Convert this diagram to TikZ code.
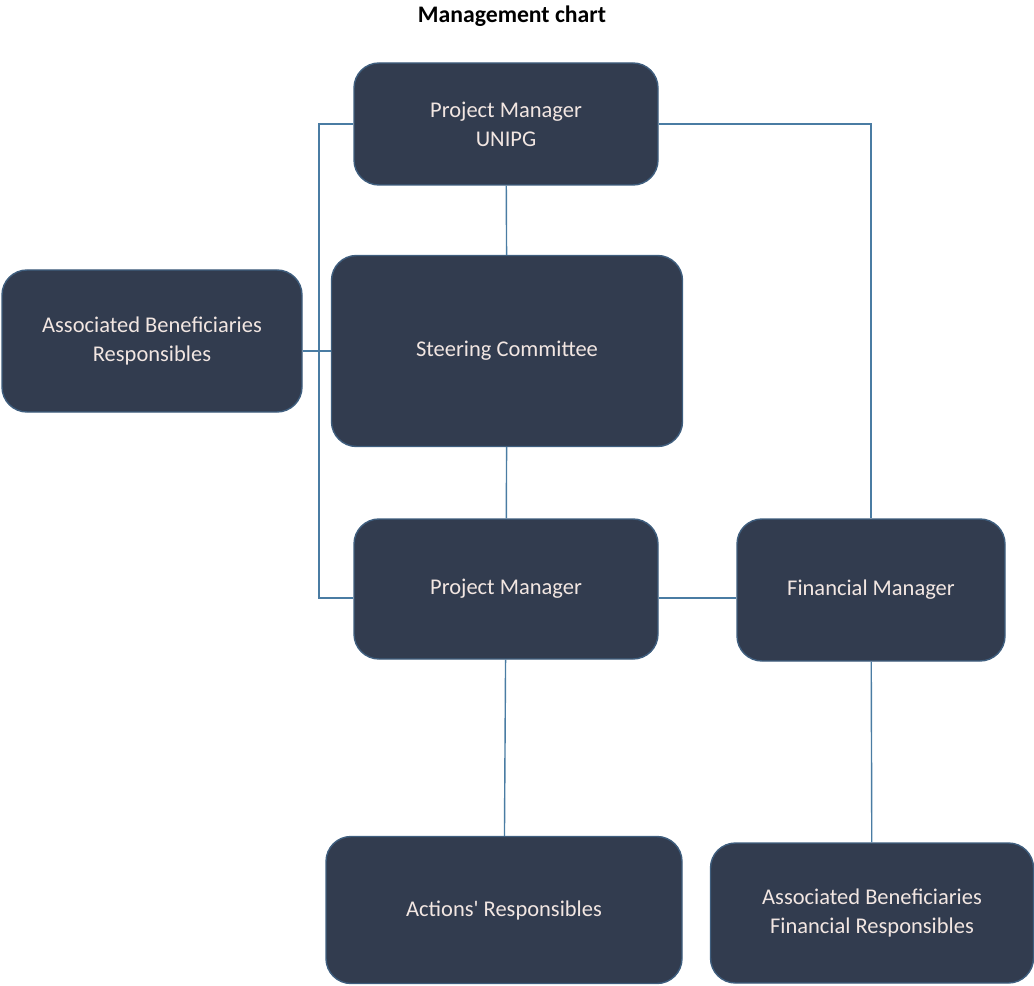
\documentclass[tikz,border=0pt]{standalone}
\usepackage{fontspec}
\setmainfont{Carlito}
\definecolor{boxfill}{HTML}{323C4F}
\definecolor{boxline}{HTML}{3F5E7E}
\definecolor{linkcol}{HTML}{4A7CA3}
\definecolor{boxtext}{HTML}{F2E6E2}
\begin{document}
\begin{tikzpicture}[
        x=0.02cm, y=-0.02cm,
        box/.style={rectangle, rounded corners=0.5cm, fill=boxfill, draw=boxline, thick,
            text=boxtext, align=center, inner sep=2pt, font=\fontsize{12.8}{16.4}\selectfont},
        link/.style={linkcol, thick}
    ]
    \useasboundingbox (0,0) rectangle (1034,986);

    % Title
    \node[font=\fontsize{13.5}{16}\selectfont\bfseries] (title) at (512,16) {Management chart};

    % Top level
    \node[box, minimum width=304*0.02cm, minimum height=122*0.02cm] (pmu) at (506,124) {Project Manager\\UNIPG};

    % Middle level
    \node[box, minimum width=300*0.02cm, minimum height=142*0.02cm] (abr) at (152,341) {Associated Beneficiaries\\Responsibles};
    \node[box, minimum width=351*0.02cm, minimum height=191*0.02cm] (sc) at (507,351) {Steering Committee};
    \node[box, minimum width=304*0.02cm, minimum height=140*0.02cm] (pm) at (506,589) {Project Manager};
    \node[box, minimum width=268*0.02cm, minimum height=142*0.02cm] (fm) at (871,590) {Financial Manager};

    % Bottom level
    \node[box, minimum width=356*0.02cm, minimum height=147*0.02cm] (ar) at (504,910) {Actions\textquotesingle{} Responsibles};
    \node[box, minimum width=323*0.02cm, minimum height=140*0.02cm] (abfr) at (872,913) {Associated Beneficiaries\\Financial Responsibles};

    % Bus on the left
    \coordinate (lbus) at (319,124);

    % Links
    \draw[link] (pmu.west) -- (lbus) |- ([yshift=-0.18cm]pm.west);
    \draw[link] (pmu.east) -| (fm.north);
    \draw[link] (abr.east |- sc.west) -- (sc.west);
    \draw[link] (pmu) -- (sc);
    \draw[link] (sc) -- (pm);
    \draw[link] ([yshift=-0.18cm]pm.east) -- ([yshift=-0.18cm]pm.east -| fm.west);
    \draw[link] (pm) -- (ar);
    \draw[link] (fm) -- (abfr);

\end{tikzpicture}
\end{document}
